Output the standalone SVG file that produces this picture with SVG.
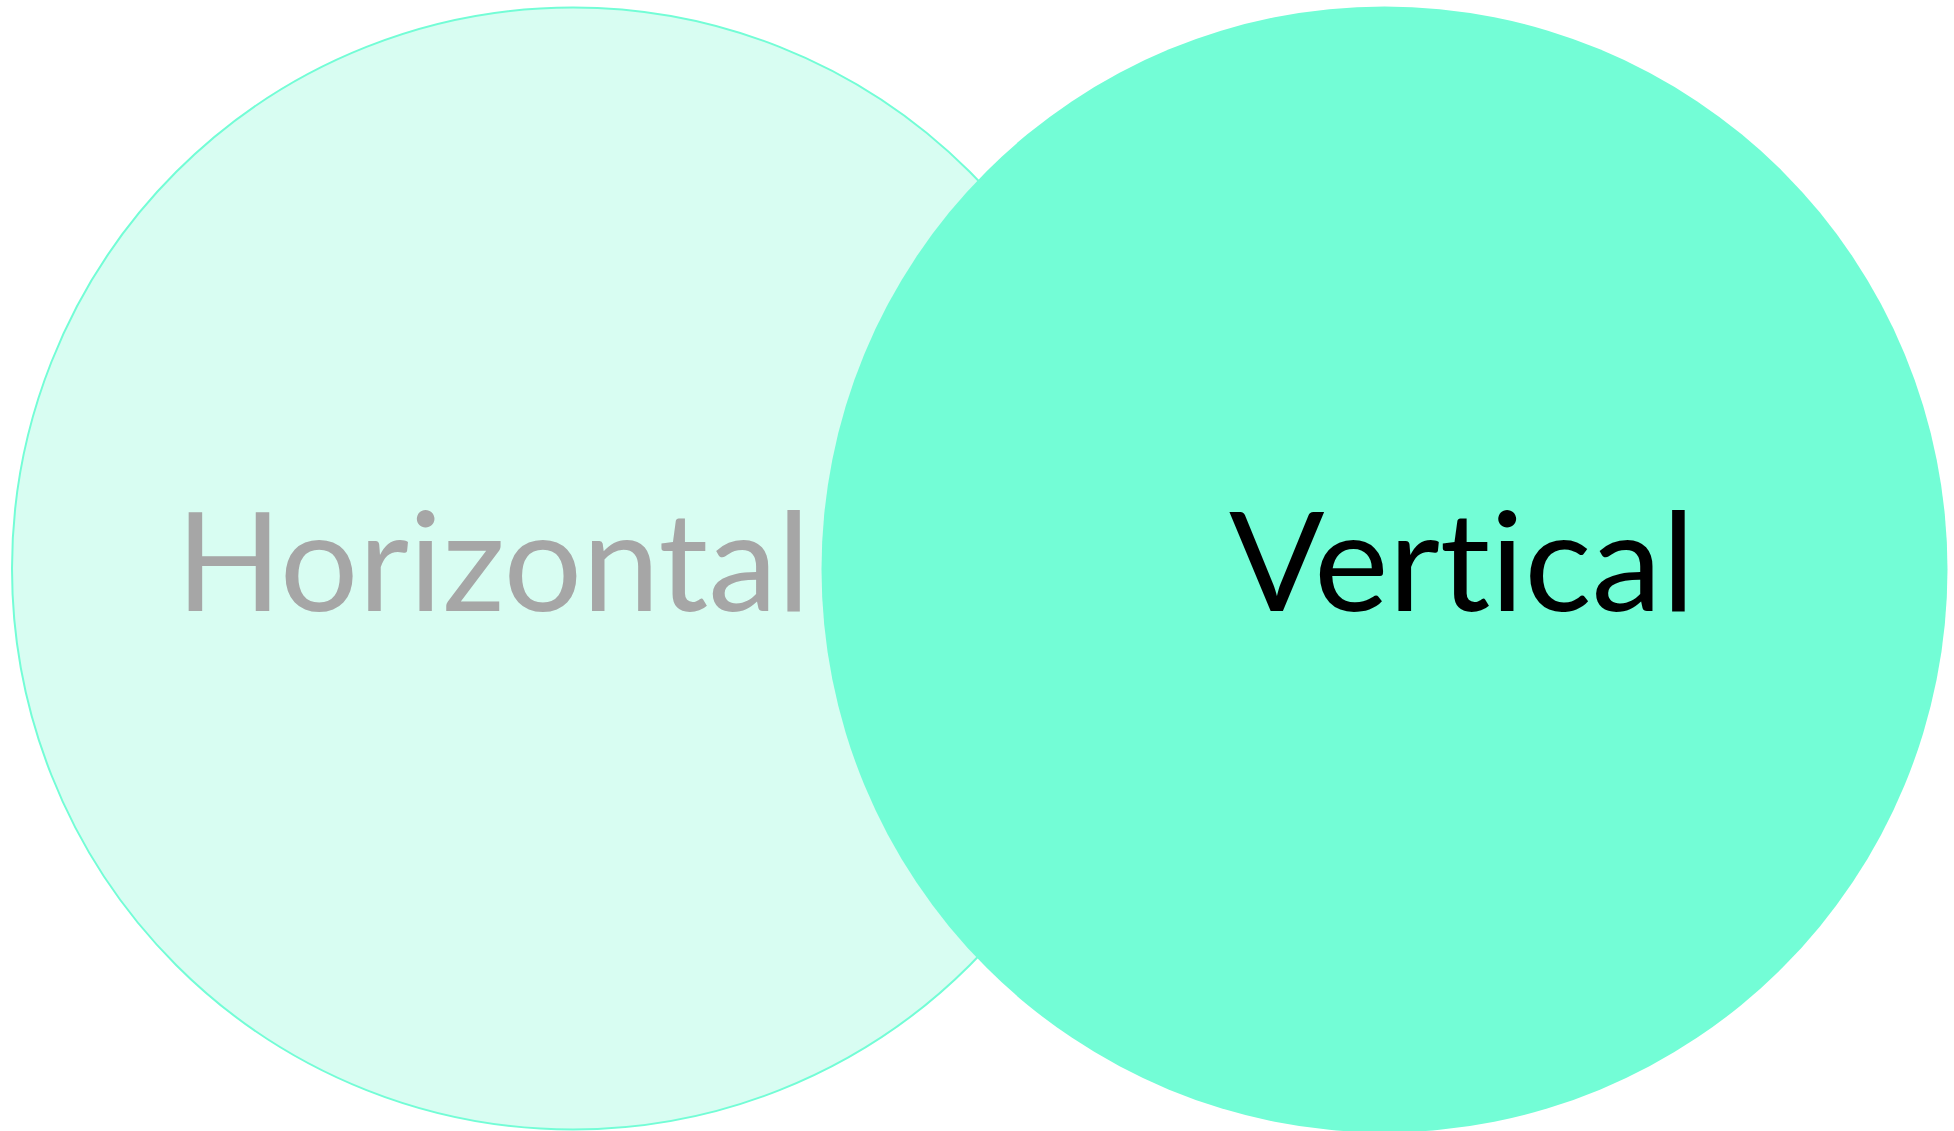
<svg xmlns="http://www.w3.org/2000/svg" width="1954" height="1131" viewBox="0 0 1954 1131">
<style>
.lbl{font-family:Lato,"Open Sans",sans-serif;font-size:137px;font-variant-ligatures:none;font-feature-settings:"liga" 0,"clig" 0,"dlig" 0}
</style>
<rect width="1954" height="1131" fill="#ffffff"/>
<g id="horizontal">
<circle cx="573" cy="568.5" r="561" fill="#d8fdf2" stroke="#73fdd6" stroke-width="2"/>
<text class="lbl" x="176" y="611" fill="#a6a6a6" textLength="634" lengthAdjust="spacingAndGlyphs">Horizontal</text>
</g>
<g id="vertical">
<circle cx="1384.5" cy="569.5" r="563" fill="#73fdd6"/>
<text class="lbl" x="1229" y="611" fill="#000000" textLength="466" lengthAdjust="spacingAndGlyphs">Vertical</text>
</g>
<g id="connectors"/>
</svg>
